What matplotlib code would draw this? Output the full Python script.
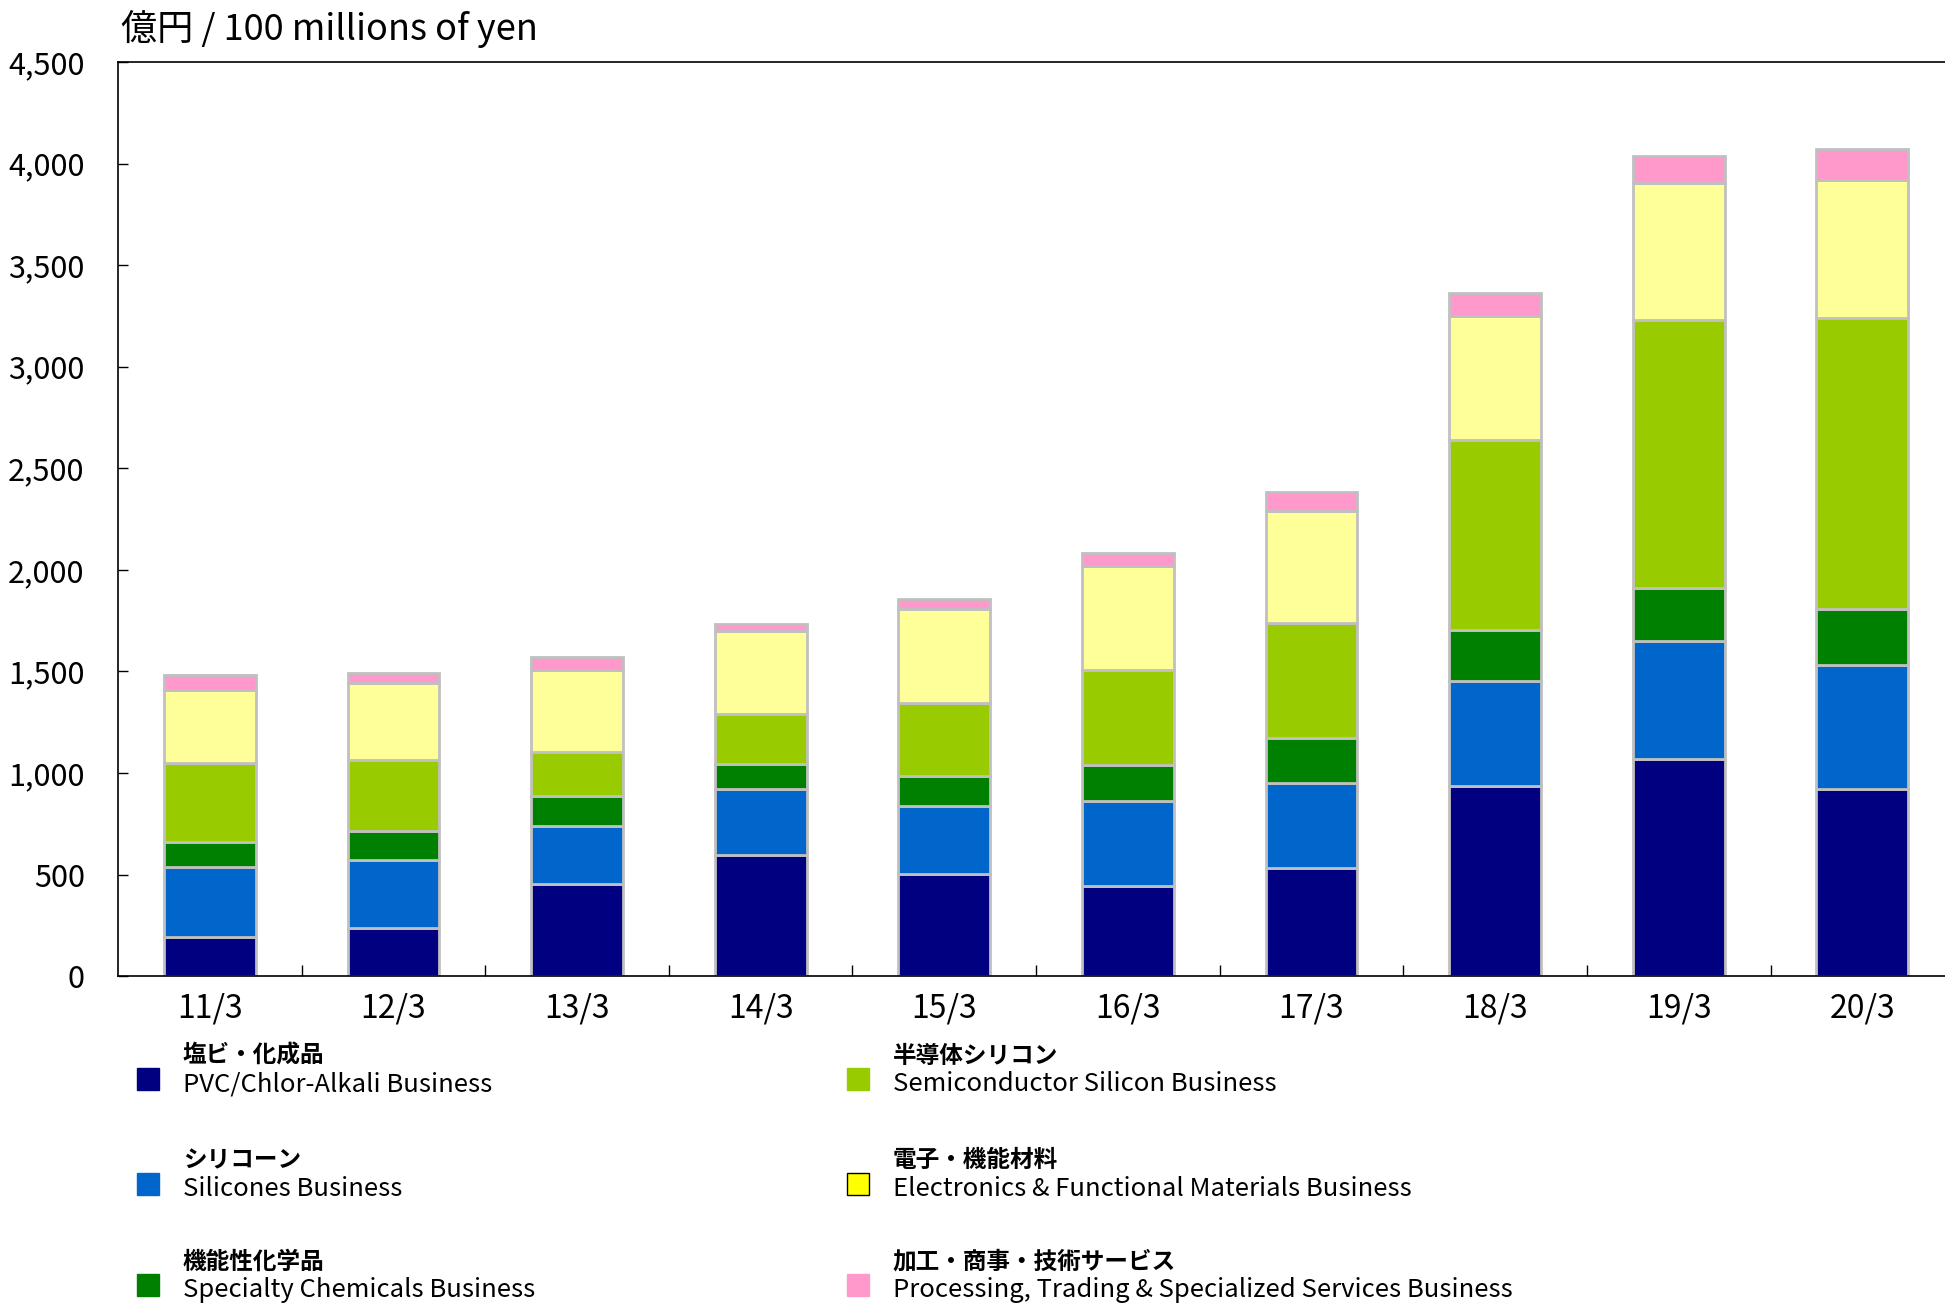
import numpy as np
import matplotlib.pyplot as plt
from matplotlib.patches import Rectangle
from matplotlib.ticker import FuncFormatter, FixedLocator

plt.rcParams['font.family'] = ['Liberation Sans Narrow', 'Noto Sans CJK JP', 'DejaVu Sans']

# data (100 millions of yen)
years = ['11/3', '12/3', '13/3', '14/3', '15/3', '16/3', '17/3', '18/3', '19/3', '20/3']
pvc = [195, 238, 452, 598, 501, 446, 531, 934, 1069, 922]
silicones = [342, 336, 287, 324, 336, 415, 422, 519, 580, 611]
specialty = [122, 140, 146, 122, 146, 177, 219, 251, 262, 274]
semicon = [391, 348, 220, 244, 360, 470, 568, 934, 1319, 1435]
electronics = [360, 379, 403, 409, 464, 513, 550, 610, 672, 678]
processing = [74, 49, 61, 37, 49, 61, 91, 116, 134, 153]

names_jp = ['塩ビ・化成品', 'シリコーン', '機能性化学品',
            '半導体シリコン', '電子・機能材料', '加工・商事・技術サービス']
names_en = ['PVC/Chlor-Alkali Business', 'Silicones Business', 'Specialty Chemicals Business',
            'Semiconductor Silicon Business', 'Electronics & Functional Materials Business',
            'Processing, Trading & Specialized Services Business']
bar_colors = ['#000080', '#0066CC', '#008000', '#99CC00', '#FFFF99', '#FF99CC']
legend_colors = ['#000080', '#0066CC', '#008000', '#99CC00', '#FFFF00', '#FF99CC']

fig = plt.figure(figsize=(19.45, 13.05), dpi=100)
ax = fig.add_axes([0.0607, 0.252, 0.944, 0.7005])

x = np.arange(len(years))
series = [pvc, silicones, specialty, semicon, electronics, processing]
bottom = np.zeros(len(years))
for vals, c in zip(series, bar_colors):
    ax.bar(x, vals, 0.5, bottom=bottom, color=c, edgecolor='#C0C0C0', linewidth=2)
    bottom += np.array(vals)

ax.set_xlim(-0.5, len(years) - 0.5)
ax.set_ylim(0, 4500)
ax.set_yticks(np.arange(0, 4501, 500))
ax.yaxis.set_major_formatter(FuncFormatter(lambda v, p: f'{int(v):,}'))
ax.tick_params(axis='y', direction='in', length=7, width=1, labelsize=22, pad=24)

ax.set_xticks(x)
ax.set_xticklabels(years)
ax.xaxis.set_minor_locator(FixedLocator(np.arange(0.5, len(years) - 0.5, 1)))
ax.tick_params(axis='x', which='major', length=0, labelsize=23, pad=12)
ax.tick_params(axis='x', which='minor', direction='in', length=8, width=1)

for s in ax.spines.values():
    s.set_linewidth(1.2)

fig.text(0.062, 0.978, '億円 / 100 millions of yen', fontsize=26, va='center', ha='left')

# legend, two columns, marker aligned with the English line
col_x = [0.0705, 0.4355]
row_y = [0.173, 0.093, 0.0155]
for i in range(6):
    cx = col_x[i // 3]
    ry = row_y[i % 3]
    ec = 'black' if legend_colors[i] == '#FFFF00' else legend_colors[i]
    fig.patches.append(Rectangle((cx, ry - 0.0085), 0.0113, 0.0168, transform=fig.transFigure,
                                 facecolor=legend_colors[i], edgecolor=ec, linewidth=1))
    fig.text(cx + 0.0235, ry + 0.018, names_jp[i], fontsize=17, fontweight='bold', va='center', ha='left')
    fig.text(cx + 0.0235, ry - 0.004, names_en[i], fontsize=18.5, va='center', ha='left')

fig.savefig('out.png', dpi=100)
